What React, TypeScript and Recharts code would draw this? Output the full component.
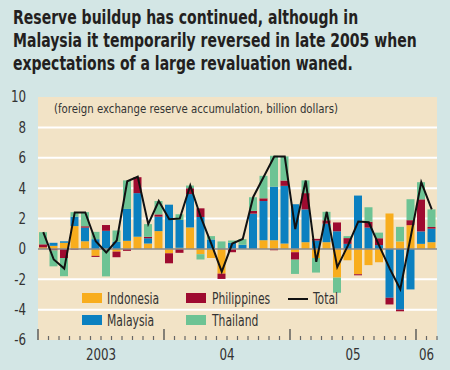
import React from 'react';
import { ComposedChart, Bar, Line, XAxis, YAxis, CartesianGrid, ReferenceLine } from 'recharts';

const months = [
  '2003-01','2003-02','2003-03','2003-04','2003-05','2003-06','2003-07','2003-08','2003-09','2003-10','2003-11','2003-12',
  '2004-01','2004-02','2004-03','2004-04','2004-05','2004-06','2004-07','2004-08','2004-09','2004-10','2004-11','2004-12',
  '2005-01','2005-02','2005-03','2005-04','2005-05','2005-06','2005-07','2005-08','2005-09','2005-10','2005-11','2005-12',
  '2006-01','2006-02',
];

const indonesia = [
  0.1, 0.2, 0.4, 1.5, 0.5, -0.46, 0, -0.18, 0.53, 0.8, 0.35, 1.17,
  -0.29, 0.07, 1.41, -0.35, -0.6, -1.63, 0, 0, 0, 0.57, 0.57, 0.35,
  -0.22, 0.44, -0.6, 0.44, -1.89, -0.75, -1.67, -1.07, -0.88, 2.33, 0.49, 1.56,
  0.33, 0.44,
];
const malaysia = [
  0, 0.2, 0.1, 0.62, 0.9, 0.64, 1.19, 0.46, 2.1, 2.87, 0.35, 0.95,
  2.91, 1.83, 2.2, 2.1, 0.62, 0, 0.4, 0.27, 2.32, 2.58, 3.53, 3.8,
  2.94, 2.16, 0.55, 1.22, 1.16, 0.33, 3.51, 1.4, 0.25, -3.22, -4.0, -2.67,
  0.82, 0.89,
];
const philippines = [
  0.2, -0.1, -0.6, -0.05, 0.09, -0.07, 0.38, -0.37, -0.13, 1.05, 0.09, 0.15,
  -0.66, -0.26, 0.38, 0.57, 0, -0.35, -0.22, 0, 0.18, 0.18, -0.09, 0.35,
  -0.49, 1.07, 0.11, 0.22, 0.58, 0.38, -0.07, 0.38, 0.45, -0.44, -0.11, 0.33,
  2.11, 0.11,
];
const thailand = [
  0.8, -1.05, -1.2, 0.3, 0.93, 0.48, -1.81, 0.75, 1.88, 0, 0.84, 0.88,
  0, 0.38, 0.18, -0.35, 0.22, 0.49, 0.15, 0.37, 0.9, 1.48, 2.03, 1.59,
  -0.94, 0.84, -0.96, 0.56, -1.0, 0.13, 0, 0.96, 0.37, 0, 0.96, 1.38,
  1.13, 1.16,
];
const total = [
  1.1, -0.7, -1.3, 2.4, 2.4, 0.5, -0.24, 0.55, 4.45, 4.75, 1.63, 3.15,
  1.95, 2.0, 4.17, 2.1, 0.35, -1.5, 0.35, 0.65, 3.42, 4.75, 6.08, 6.08,
  1.3, 4.5, -0.85, 2.44, -1.2, 0.2, 1.8, 1.75, 0.2, -1.3, -2.65, 0.8,
  4.4, 2.6,
];

const yTicks = [-6, -4, -2, 0, 2, 4, 6, 8, 10];
const gridValues = [-4, -2, 2, 4, 6, 8];
const monthBoundaries = Array.from({ length: 39 }, (_, i) => i);
const yearStarts = [0, 12, 24, 36];
const yearLabels: Record<number, string> = { 6: '2003', 18: '04', 30: '05', 37: '06' };

const COLORS = {
  Indonesia: '#f8ad1d',
  Malaysia: '#0b80c0',
  Philippines: '#9e0b30',
  Thailand: '#6dc394',
};

const data = months.map((m, i) => ({
  month: m,
  pos: i + 0.5,
  Indonesia: indonesia[i],
  Malaysia: malaysia[i],
  Philippines: philippines[i],
  Thailand: thailand[i],
  Total: total[i],
}));

const FONT = "'Liberation Sans Narrow', 'DejaVu Sans Condensed', 'Arial Narrow', sans-serif";

const XTick = (props: any) => {
  const { x, y, payload } = props;
  const v = payload.value;
  const major = yearStarts.includes(v);
  const lbl = yearLabels[v];
  return (
    <g>
      <line x1={x} x2={x} y1={y} y2={y - (major ? 11 : 4)} stroke={major ? '#555' : '#666'} strokeWidth={major ? 1.4 : 1.2} />
      {lbl && (
        <text x={x} y={y + 20} textAnchor="middle" fill="#333" fontSize={15} fontFamily={FONT}
          transform={`translate(${x},0) scale(0.88,1) translate(${-x},0)`}>
          {lbl}
        </text>
      )}
    </g>
  );
};

const YTick = (props: any) => {
  const { x, y, payload } = props;
  return (
    <text x={x} y={y} dy="0.36em" textAnchor="end" fill="#333" fontSize={15} fontFamily={FONT}
      transform={`translate(${x},0) scale(0.88,1) translate(${-x},0)`}>
      {payload.value}
    </text>
  );
};

const Swatch = ({ left, top, color }: { left: number; top: number; color: string }) => (
  <div style={{ position: 'absolute', left, top, width: 20, height: 10, background: color }} />
);
const LegText = ({ left, top, children }: { left: number; top: number; children: React.ReactNode }) => (
  <div style={{ position: 'absolute', left, top, fontSize: 15, lineHeight: '16px', color: '#333', fontFamily: FONT, whiteSpace: 'nowrap', transform: 'scaleX(0.8)', transformOrigin: 'left center' }}>
    {children}
  </div>
);

export default function App() {
  return (
    <div style={{ position: 'absolute', left: 0, top: 0, width: 450, height: 370, background: '#d3e6e5', overflow: 'hidden' }}>
      <div
        style={{
          position: 'absolute',
          left: 13,
          top: 6,
          fontFamily: FONT,
          fontWeight: 'bold',
          fontSize: 19,
          lineHeight: '23px',
          color: '#231f20',
          whiteSpace: 'nowrap',
          transform: 'scaleX(0.82)',
          transformOrigin: 'left top',
        }}
      >
        Reserve buildup has continued, although in
        <br />
        Malaysia it temporarily reversed in late 2005 when
        <br />
        expectations of a large revaluation waned.
      </div>
      <div style={{ position: 'absolute', left: 0, top: 0 }}>
        <ComposedChart
          width={450}
          height={370}
          data={data}
          stackOffset="sign"
          margin={{ top: 97, right: 13, bottom: 0, left: 0 }}
        >
          <CartesianGrid
            fill="#f2e3c6"
            stroke="#ffffff"
            strokeWidth={2}
            vertical={false}
            horizontalValues={gridValues}
          />
          <XAxis
            type="number"
            dataKey="pos"
            domain={[0, 38]}
            ticks={monthBoundaries}
            interval={0}
            axisLine={false}
            tickLine={false}
            tickSize={0}
            tickMargin={0}
            height={30}
            tick={<XTick />}
          />
          <YAxis
            type="number"
            domain={[-6, 10]}
            ticks={yTicks}
            interval={0}
            axisLine={false}
            tickLine={false}
            tickSize={0}
            tickMargin={12}
            width={38}
            tick={<YTick />}
          />
          <Bar dataKey="Indonesia" stackId="a" fill={COLORS.Indonesia} barSize={8} isAnimationActive={false} />
          <Bar dataKey="Malaysia" stackId="a" fill={COLORS.Malaysia} barSize={8} isAnimationActive={false} />
          <Bar dataKey="Philippines" stackId="a" fill={COLORS.Philippines} barSize={8} isAnimationActive={false} />
          <Bar dataKey="Thailand" stackId="a" fill={COLORS.Thailand} barSize={8} isAnimationActive={false} />
          <ReferenceLine y={0} stroke="#8a8a8a" strokeWidth={1.5} />
          <Line dataKey="Total" type="linear" stroke="#111" strokeWidth={2} dot={false} isAnimationActive={false} />
        </ComposedChart>
      </div>
      <div
        style={{
          position: 'absolute',
          left: 54,
          top: 101,
          fontFamily: FONT,
          fontSize: 13,
          color: '#333',
          whiteSpace: 'nowrap',
          transform: 'scaleX(0.87)',
          transformOrigin: 'left top',
        }}
      >
        (foreign exchange reserve accumulation, billion dollars)
      </div>
      <Swatch left={82} top={293} color={COLORS.Indonesia} />
      <LegText left={107} top={291}>Indonesia</LegText>
      <Swatch left={82} top={315} color={COLORS.Malaysia} />
      <LegText left={107} top={313}>Malaysia</LegText>
      <Swatch left={186} top={293} color={COLORS.Philippines} />
      <LegText left={212} top={291}>Philippines</LegText>
      <Swatch left={186} top={315} color={COLORS.Thailand} />
      <LegText left={212} top={313}>Thailand</LegText>
      <div style={{ position: 'absolute', left: 288, top: 298, width: 20, height: 2, background: '#111' }} />
      <LegText left={313} top={291}>Total</LegText>
    </div>
  );
}
